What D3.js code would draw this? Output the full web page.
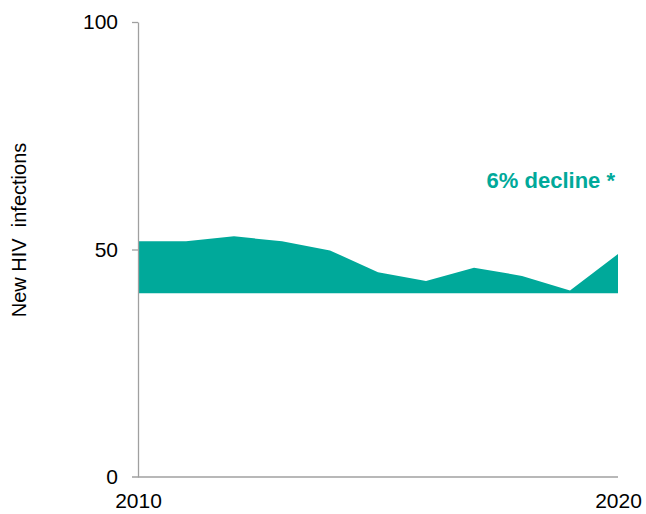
<!DOCTYPE html>
<html>
<head>
<meta charset="utf-8">
<script src="https://cdn.jsdelivr.net/npm/d3@7"></script>
<style>
  body { margin: 0; background: #fff; }
  svg text { font-family: "Liberation Sans", Arial, sans-serif; }
</style>
</head>
<body>
<svg id="chart" width="646" height="514"></svg>
<script>
// chart values
var years = [2010, 2011, 2012, 2013, 2014, 2015, 2016, 2017, 2018, 2019, 2020];
var infections = [51.8, 51.8, 52.9, 51.8, 49.8, 45.0, 43.1, 46.0, 44.2, 41.0, 49.0];
var baseline = 40.4;
var yTicks = [0, 50, 100];
var xTickLabels = [2010, 2020];
var annotation = '6% decline *';
var yTitle = 'New HIV\u00a0 infections';

var teal = '#00a99a',
    axisGrey = '#a0a0a0';

var svg = d3.select('#chart'),
    x = d3.scaleLinear().domain([2010, 2020]).range([138, 618]),
    y = d3.scaleLinear().domain([0, 100]).range([477, 22]);

var rows = years.map(function (yr, i) {
    return { year: yr, value: infections[i] };
});

// filled band
var area = d3.area()
    .x(function (d) { return x(d.year); })
    .y0(y(baseline))
    .y1(function (d) { return y(d.value); });

svg.append('path')
    .datum(rows)
    .attr('d', area)
    .attr('fill', teal);

// y axis
var yAxis = svg.append('g')
    .attr('transform', 'translate(' + x(2010) + ',0)')
    .call(d3.axisLeft(y).tickValues(yTicks).tickSize(6).tickPadding(14).tickSizeOuter(0));
yAxis.select('.domain').attr('stroke', axisGrey).attr('stroke-width', 1.3);
yAxis.selectAll('.tick line').attr('stroke', axisGrey).attr('stroke-width', 1.3);
yAxis.selectAll('.tick text')
    .attr('fill', '#000')
    .style('font-size', '21px');
yAxis.selectAll('.tick').filter(function (d) { return d === 0; }).select('line').remove();

// x axis
var xAxis = svg.append('g')
    .attr('transform', 'translate(0,' + y(0) + ')')
    .call(d3.axisBottom(x).tickValues(xTickLabels).tickFormat(d3.format('d')).tickSize(0).tickPadding(16).tickSizeOuter(0));
xAxis.select('.domain').remove();
xAxis.append('line')
    .attr('x1', x(2010) - 6)
    .attr('x2', x(2020))
    .attr('stroke', axisGrey)
    .attr('stroke-width', 1.3);
xAxis.selectAll('.tick text')
    .attr('fill', '#000')
    .style('font-size', '21px');

// y axis title
svg.append('text')
    .attr('transform', 'translate(26,' + 230 + ') rotate(-90)')
    .attr('text-anchor', 'middle')
    .style('font-size', '20px')
    .attr('fill', '#000')
    .text(yTitle);

// annotation
svg.append('text')
    .attr('x', 615)
    .attr('y', 188)
    .attr('text-anchor', 'end')
    .style('font-size', '22px')
    .style('font-weight', 'bold')
    .attr('fill', teal)
    .text(annotation);
</script>
</body>
</html>
